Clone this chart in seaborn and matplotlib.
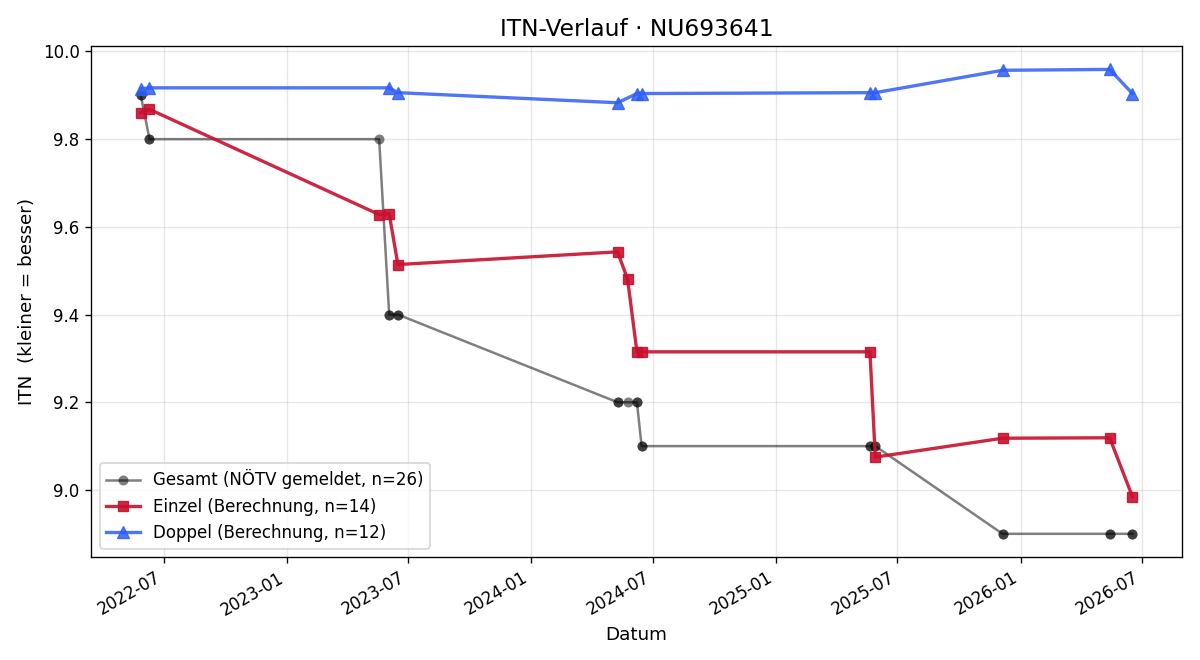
import pandas as pd
import matplotlib
matplotlib.use("Agg")
import matplotlib.pyplot as plt
import matplotlib.dates as mdates
import seaborn as sns

# === Data
gesamt_dates = ["2022-05-28", "2022-05-28", "2022-06-10", "2022-06-10", "2023-05-19",
                "2023-06-03", "2023-06-03", "2023-06-16", "2023-06-16",
                "2024-05-09", "2024-05-09", "2024-05-24", "2024-06-07", "2024-06-07",
                "2024-06-14", "2024-06-14", "2025-05-21", "2025-05-21", "2025-05-29", "2025-05-29",
                "2025-12-05", "2025-12-05", "2026-05-14", "2026-05-14", "2026-06-17", "2026-06-17"]
gesamt_itn = [9.9, 9.9, 9.8, 9.8, 9.8,
              9.4, 9.4, 9.4, 9.4,
              9.2, 9.2, 9.2, 9.2, 9.2,
              9.1, 9.1, 9.1, 9.1, 9.1, 9.1,
              8.9, 8.9, 8.9, 8.9, 8.9, 8.9]

einzel_dates = ["2022-05-28", "2022-06-10", "2023-05-19", "2023-06-03", "2023-06-16",
                "2024-05-09", "2024-05-24", "2024-06-07", "2024-06-14",
                "2025-05-21", "2025-05-29", "2025-12-05", "2026-05-14", "2026-06-17"]
einzel_itn = [9.860, 9.868, 9.628, 9.630, 9.514,
              9.543, 9.481, 9.315, 9.315,
              9.315, 9.075, 9.118, 9.119, 8.985]

doppel_dates = ["2022-05-28", "2022-06-10", "2023-06-03", "2023-06-16",
                "2024-05-09", "2024-06-07", "2024-06-14",
                "2025-05-21", "2025-05-29", "2025-12-05", "2026-05-14", "2026-06-17"]
doppel_itn = [9.915, 9.917, 9.917, 9.906,
              9.883, 9.904, 9.904,
              9.906, 9.906, 9.957, 9.959, 9.904]

df_g = pd.DataFrame({"Datum": pd.to_datetime(gesamt_dates), "ITN": gesamt_itn})
df_e = pd.DataFrame({"Datum": pd.to_datetime(einzel_dates), "ITN": einzel_itn})
df_d = pd.DataFrame({"Datum": pd.to_datetime(doppel_dates), "ITN": doppel_itn})

# === Plot
fig, ax = plt.subplots(figsize=(10, 5.5), dpi=120)

c_g, c_e, c_d = "black", "#C8102E", "#2F5EF5"
sns.lineplot(data=df_g, x="Datum", y="ITN", estimator=None, sort=False, ax=ax,
             color=c_g, alpha=0.5, linewidth=1.5, marker="o", markersize=6,
             markeredgewidth=0,
             label=f"Gesamt (NÖTV gemeldet, n={len(df_g)})")
sns.lineplot(data=df_e, x="Datum", y="ITN", estimator=None, sort=False, ax=ax,
             color=c_e, alpha=0.9, linewidth=2, marker="s", markersize=6.5,
             markeredgecolor=c_e, markeredgewidth=0.8,
             label=f"Einzel (Berechnung, n={len(df_e)})")
sns.lineplot(data=df_d, x="Datum", y="ITN", estimator=None, sort=False, ax=ax,
             color=c_d, alpha=0.85, linewidth=2, marker="^", markersize=7,
             markeredgecolor=c_d, markeredgewidth=0.8,
             label=f"Doppel (Berechnung, n={len(df_d)})")

ax.set_title("ITN-Verlauf · NU693641", fontsize=14)
ax.set_xlabel("Datum", fontsize=11)
ax.set_ylabel("ITN  (kleiner = besser)", fontsize=11)
ax.grid(True, alpha=0.3)
ax.xaxis.set_major_locator(mdates.MonthLocator(bymonth=[1, 7]))
ax.xaxis.set_major_formatter(mdates.DateFormatter("%Y-%m"))
ax.tick_params(labelsize=10)
ax.legend(loc="lower left", fontsize=10)
fig.autofmt_xdate()

plt.subplots_adjust(left=0.076, right=0.985, top=0.93, bottom=0.156)
plt.savefig("out.png", dpi=120)
plt.close()
